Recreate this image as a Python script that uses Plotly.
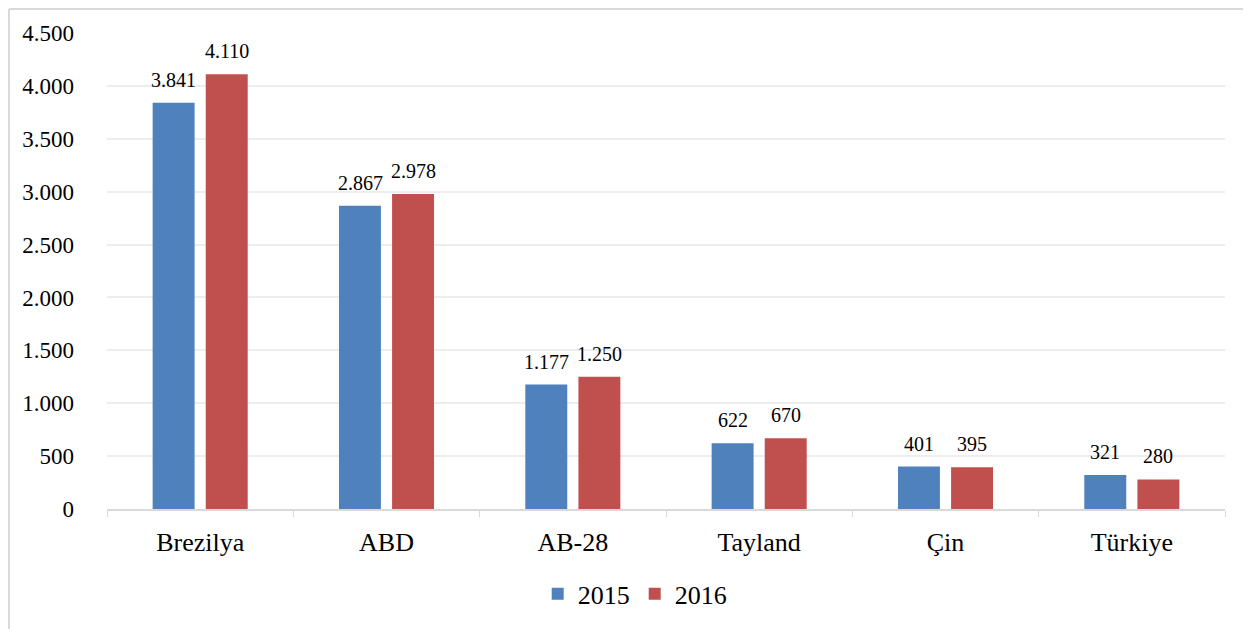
import plotly.graph_objects as go

categories = ['Brezilya', 'ABD', 'AB-28', 'Tayland', 'Çin', 'Türkiye']
years = ['2015', '2016']
values_2015 = [3841, 2867, 1177, 622, 401, 321]
values_2016 = [4110, 2978, 1250, 670, 395, 280]
y_ticks = [0, 500, 1000, 1500, 2000, 2500, 3000, 3500, 4000, 4500]

COLORS = {'2015': '#4F81BD', '2016': '#C0504D'}
FONT = 'Liberation Serif'


def tr_fmt(v):
    return f'{v:,}'.replace(',', '.')


fig = go.Figure()
for yr, vals in zip(years, [values_2015, values_2016]):
    fig.add_trace(go.Bar(
        x=categories, y=vals, name=yr,
        marker=dict(color=COLORS[yr], line=dict(width=0)),
    ))

# value labels above bars
annotations = []
for i, (yr, vals) in enumerate(zip(years, [values_2015, values_2016])):
    shift = -26.5 if i == 0 else 26.5
    for c, v in zip(categories, vals):
        annotations.append(dict(
            x=c, y=v, xref='x', yref='y', text=tr_fmt(v), showarrow=False,
            xshift=shift, yshift=23, font=dict(family=FONT, size=20, color='#000000'),
        ))

# page body adds an 8px margin, so the figure is a bit smaller
fig.update_layout(
    width=1243, height=621,
    margin=dict(l=99, r=26, t=25, b=118),
    paper_bgcolor='white', plot_bgcolor='white',
    font=dict(family=FONT, color='#000000'),
    separators=',.',
    barmode='group', bargap=0.43, bargroupgap=0.21,
    showlegend=True,
    legend=dict(orientation='h', x=0.472, xanchor='center', y=-0.178, yanchor='middle',
                font=dict(family=FONT, size=26), itemwidth=30, traceorder='normal'),
    annotations=annotations,
    shapes=[
        # outer frame (top and left edges)
        dict(type='line', xref='paper', yref='paper', x0=-0.0877, x1=1.1, y0=1.0502, y1=1.0502,
             line=dict(color='#D9D9D9', width=2)),
        dict(type='line', xref='paper', yref='paper', x0=-0.0877, x1=-0.0877, y0=1.0502, y1=-0.3,
             line=dict(color='#D9D9D9', width=2)),
    ],
)
fig.update_yaxes(
    range=[0, 4500], tickvals=y_ticks, tickformat=',',
    showgrid=True, gridcolor='#EDEDED', gridwidth=1.5,
    zeroline=False, showline=False, ticks='', automargin=False,
    tickfont=dict(family=FONT, size=23), ticklabelstandoff=32,
)
fig.update_xaxes(
    showline=True, linecolor='#D9D9D9', linewidth=1.5, automargin=False,
    ticks='outside', tickson='boundaries', ticklen=6, tickcolor='#D9D9D9',
    tickfont=dict(family=FONT, size=26), ticklabelstandoff=9,
)

fig.write_html('out.html')
